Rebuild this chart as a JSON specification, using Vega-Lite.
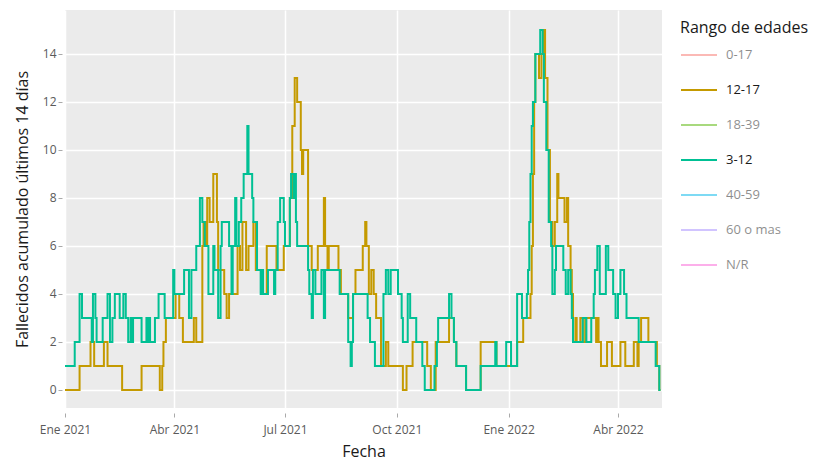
{
  "$schema": "https://vega.github.io/schema/vega-lite/v6.json",
  "width": 597,
  "height": 398,
  "autosize": {"type": "none"},
  "padding": {"left": 65, "top": 10, "right": 163, "bottom": 56},
  "background": "#ffffff",
  "config": {"font": "Open Sans", "view": {"fill": "#EBEBEB", "stroke": null}},
  "data": {"values": [
    {"fecha": "2021-01-01", "rango": "12-17", "fallecidos": 0},
    {"fecha": "2021-01-13", "rango": "12-17", "fallecidos": 1},
    {"fecha": "2021-01-22", "rango": "12-17", "fallecidos": 2},
    {"fecha": "2021-01-25", "rango": "12-17", "fallecidos": 1},
    {"fecha": "2021-02-02", "rango": "12-17", "fallecidos": 2},
    {"fecha": "2021-02-05", "rango": "12-17", "fallecidos": 1},
    {"fecha": "2021-02-17", "rango": "12-17", "fallecidos": 0},
    {"fecha": "2021-03-05", "rango": "12-17", "fallecidos": 1},
    {"fecha": "2021-03-20", "rango": "12-17", "fallecidos": 0},
    {"fecha": "2021-03-22", "rango": "12-17", "fallecidos": 1},
    {"fecha": "2021-03-23", "rango": "12-17", "fallecidos": 2},
    {"fecha": "2021-03-25", "rango": "12-17", "fallecidos": 3},
    {"fecha": "2021-04-02", "rango": "12-17", "fallecidos": 4},
    {"fecha": "2021-04-05", "rango": "12-17", "fallecidos": 3},
    {"fecha": "2021-04-08", "rango": "12-17", "fallecidos": 2},
    {"fecha": "2021-04-17", "rango": "12-17", "fallecidos": 3},
    {"fecha": "2021-04-19", "rango": "12-17", "fallecidos": 2},
    {"fecha": "2021-04-24", "rango": "12-17", "fallecidos": 6},
    {"fecha": "2021-04-25", "rango": "12-17", "fallecidos": 7},
    {"fecha": "2021-04-27", "rango": "12-17", "fallecidos": 6},
    {"fecha": "2021-04-28", "rango": "12-17", "fallecidos": 8},
    {"fecha": "2021-04-30", "rango": "12-17", "fallecidos": 7},
    {"fecha": "2021-05-03", "rango": "12-17", "fallecidos": 9},
    {"fecha": "2021-05-06", "rango": "12-17", "fallecidos": 7},
    {"fecha": "2021-05-07", "rango": "12-17", "fallecidos": 5},
    {"fecha": "2021-05-12", "rango": "12-17", "fallecidos": 4},
    {"fecha": "2021-05-14", "rango": "12-17", "fallecidos": 3},
    {"fecha": "2021-05-16", "rango": "12-17", "fallecidos": 4},
    {"fecha": "2021-05-23", "rango": "12-17", "fallecidos": 6},
    {"fecha": "2021-05-25", "rango": "12-17", "fallecidos": 5},
    {"fecha": "2021-05-27", "rango": "12-17", "fallecidos": 7},
    {"fecha": "2021-05-30", "rango": "12-17", "fallecidos": 5},
    {"fecha": "2021-06-01", "rango": "12-17", "fallecidos": 6},
    {"fecha": "2021-06-05", "rango": "12-17", "fallecidos": 7},
    {"fecha": "2021-06-07", "rango": "12-17", "fallecidos": 5},
    {"fecha": "2021-06-12", "rango": "12-17", "fallecidos": 4},
    {"fecha": "2021-06-16", "rango": "12-17", "fallecidos": 6},
    {"fecha": "2021-06-24", "rango": "12-17", "fallecidos": 5},
    {"fecha": "2021-06-30", "rango": "12-17", "fallecidos": 6},
    {"fecha": "2021-07-05", "rango": "12-17", "fallecidos": 8},
    {"fecha": "2021-07-07", "rango": "12-17", "fallecidos": 11},
    {"fecha": "2021-07-09", "rango": "12-17", "fallecidos": 13},
    {"fecha": "2021-07-11", "rango": "12-17", "fallecidos": 12},
    {"fecha": "2021-07-14", "rango": "12-17", "fallecidos": 10},
    {"fecha": "2021-07-15", "rango": "12-17", "fallecidos": 9},
    {"fecha": "2021-07-16", "rango": "12-17", "fallecidos": 10},
    {"fecha": "2021-07-20", "rango": "12-17", "fallecidos": 6},
    {"fecha": "2021-07-23", "rango": "12-17", "fallecidos": 5},
    {"fecha": "2021-07-28", "rango": "12-17", "fallecidos": 6},
    {"fecha": "2021-08-02", "rango": "12-17", "fallecidos": 8},
    {"fecha": "2021-08-03", "rango": "12-17", "fallecidos": 6},
    {"fecha": "2021-08-05", "rango": "12-17", "fallecidos": 5},
    {"fecha": "2021-08-06", "rango": "12-17", "fallecidos": 6},
    {"fecha": "2021-08-14", "rango": "12-17", "fallecidos": 5},
    {"fecha": "2021-08-16", "rango": "12-17", "fallecidos": 4},
    {"fecha": "2021-08-22", "rango": "12-17", "fallecidos": 3},
    {"fecha": "2021-08-26", "rango": "12-17", "fallecidos": 4},
    {"fecha": "2021-08-28", "rango": "12-17", "fallecidos": 5},
    {"fecha": "2021-09-03", "rango": "12-17", "fallecidos": 6},
    {"fecha": "2021-09-05", "rango": "12-17", "fallecidos": 7},
    {"fecha": "2021-09-06", "rango": "12-17", "fallecidos": 6},
    {"fecha": "2021-09-08", "rango": "12-17", "fallecidos": 4},
    {"fecha": "2021-09-10", "rango": "12-17", "fallecidos": 5},
    {"fecha": "2021-09-12", "rango": "12-17", "fallecidos": 4},
    {"fecha": "2021-09-14", "rango": "12-17", "fallecidos": 3},
    {"fecha": "2021-09-18", "rango": "12-17", "fallecidos": 1},
    {"fecha": "2021-09-22", "rango": "12-17", "fallecidos": 2},
    {"fecha": "2021-09-24", "rango": "12-17", "fallecidos": 1},
    {"fecha": "2021-10-06", "rango": "12-17", "fallecidos": 0},
    {"fecha": "2021-10-09", "rango": "12-17", "fallecidos": 1},
    {"fecha": "2021-10-14", "rango": "12-17", "fallecidos": 2},
    {"fecha": "2021-10-26", "rango": "12-17", "fallecidos": 1},
    {"fecha": "2021-10-29", "rango": "12-17", "fallecidos": 0},
    {"fecha": "2021-11-02", "rango": "12-17", "fallecidos": 2},
    {"fecha": "2021-11-13", "rango": "12-17", "fallecidos": 3},
    {"fecha": "2021-11-17", "rango": "12-17", "fallecidos": 2},
    {"fecha": "2021-11-19", "rango": "12-17", "fallecidos": 1},
    {"fecha": "2021-11-27", "rango": "12-17", "fallecidos": 0},
    {"fecha": "2021-12-09", "rango": "12-17", "fallecidos": 2},
    {"fecha": "2021-12-22", "rango": "12-17", "fallecidos": 1},
    {"fecha": "2022-01-08", "rango": "12-17", "fallecidos": 2},
    {"fecha": "2022-01-13", "rango": "12-17", "fallecidos": 3},
    {"fecha": "2022-01-19", "rango": "12-17", "fallecidos": 4},
    {"fecha": "2022-01-20", "rango": "12-17", "fallecidos": 6},
    {"fecha": "2022-01-21", "rango": "12-17", "fallecidos": 9},
    {"fecha": "2022-01-22", "rango": "12-17", "fallecidos": 12},
    {"fecha": "2022-01-23", "rango": "12-17", "fallecidos": 14},
    {"fecha": "2022-01-26", "rango": "12-17", "fallecidos": 13},
    {"fecha": "2022-01-28", "rango": "12-17", "fallecidos": 14},
    {"fecha": "2022-01-30", "rango": "12-17", "fallecidos": 15},
    {"fecha": "2022-01-31", "rango": "12-17", "fallecidos": 13},
    {"fecha": "2022-02-02", "rango": "12-17", "fallecidos": 10},
    {"fecha": "2022-02-04", "rango": "12-17", "fallecidos": 7},
    {"fecha": "2022-02-06", "rango": "12-17", "fallecidos": 6},
    {"fecha": "2022-02-08", "rango": "12-17", "fallecidos": 7},
    {"fecha": "2022-02-10", "rango": "12-17", "fallecidos": 9},
    {"fecha": "2022-02-11", "rango": "12-17", "fallecidos": 8},
    {"fecha": "2022-02-16", "rango": "12-17", "fallecidos": 7},
    {"fecha": "2022-02-18", "rango": "12-17", "fallecidos": 8},
    {"fecha": "2022-02-19", "rango": "12-17", "fallecidos": 6},
    {"fecha": "2022-02-21", "rango": "12-17", "fallecidos": 5},
    {"fecha": "2022-02-22", "rango": "12-17", "fallecidos": 4},
    {"fecha": "2022-02-23", "rango": "12-17", "fallecidos": 2},
    {"fecha": "2022-02-25", "rango": "12-17", "fallecidos": 3},
    {"fecha": "2022-02-26", "rango": "12-17", "fallecidos": 2},
    {"fecha": "2022-03-01", "rango": "12-17", "fallecidos": 3},
    {"fecha": "2022-03-03", "rango": "12-17", "fallecidos": 2},
    {"fecha": "2022-03-05", "rango": "12-17", "fallecidos": 3},
    {"fecha": "2022-03-14", "rango": "12-17", "fallecidos": 2},
    {"fecha": "2022-03-15", "rango": "12-17", "fallecidos": 3},
    {"fecha": "2022-03-16", "rango": "12-17", "fallecidos": 2},
    {"fecha": "2022-03-18", "rango": "12-17", "fallecidos": 1},
    {"fecha": "2022-03-23", "rango": "12-17", "fallecidos": 2},
    {"fecha": "2022-03-27", "rango": "12-17", "fallecidos": 1},
    {"fecha": "2022-04-03", "rango": "12-17", "fallecidos": 2},
    {"fecha": "2022-04-07", "rango": "12-17", "fallecidos": 1},
    {"fecha": "2022-04-14", "rango": "12-17", "fallecidos": 2},
    {"fecha": "2022-04-17", "rango": "12-17", "fallecidos": 1},
    {"fecha": "2022-04-18", "rango": "12-17", "fallecidos": 2},
    {"fecha": "2022-04-20", "rango": "12-17", "fallecidos": 3},
    {"fecha": "2022-04-26", "rango": "12-17", "fallecidos": 2},
    {"fecha": "2022-05-03", "rango": "12-17", "fallecidos": 1},
    {"fecha": "2022-05-05", "rango": "12-17", "fallecidos": 0},
    {"fecha": "2022-05-06", "rango": "12-17", "fallecidos": 0},
    {"fecha": "2021-01-01", "rango": "3-12", "fallecidos": 1},
    {"fecha": "2021-01-09", "rango": "3-12", "fallecidos": 2},
    {"fecha": "2021-01-13", "rango": "3-12", "fallecidos": 4},
    {"fecha": "2021-01-15", "rango": "3-12", "fallecidos": 3},
    {"fecha": "2021-01-23", "rango": "3-12", "fallecidos": 2},
    {"fecha": "2021-01-24", "rango": "3-12", "fallecidos": 4},
    {"fecha": "2021-01-26", "rango": "3-12", "fallecidos": 3},
    {"fecha": "2021-01-27", "rango": "3-12", "fallecidos": 2},
    {"fecha": "2021-02-01", "rango": "3-12", "fallecidos": 3},
    {"fecha": "2021-02-05", "rango": "3-12", "fallecidos": 4},
    {"fecha": "2021-02-07", "rango": "3-12", "fallecidos": 2},
    {"fecha": "2021-02-09", "rango": "3-12", "fallecidos": 3},
    {"fecha": "2021-02-11", "rango": "3-12", "fallecidos": 4},
    {"fecha": "2021-02-15", "rango": "3-12", "fallecidos": 3},
    {"fecha": "2021-02-18", "rango": "3-12", "fallecidos": 4},
    {"fecha": "2021-02-20", "rango": "3-12", "fallecidos": 3},
    {"fecha": "2021-02-22", "rango": "3-12", "fallecidos": 2},
    {"fecha": "2021-02-24", "rango": "3-12", "fallecidos": 3},
    {"fecha": "2021-02-25", "rango": "3-12", "fallecidos": 2},
    {"fecha": "2021-02-26", "rango": "3-12", "fallecidos": 3},
    {"fecha": "2021-03-05", "rango": "3-12", "fallecidos": 2},
    {"fecha": "2021-03-09", "rango": "3-12", "fallecidos": 3},
    {"fecha": "2021-03-10", "rango": "3-12", "fallecidos": 2},
    {"fecha": "2021-03-11", "rango": "3-12", "fallecidos": 3},
    {"fecha": "2021-03-12", "rango": "3-12", "fallecidos": 2},
    {"fecha": "2021-03-16", "rango": "3-12", "fallecidos": 3},
    {"fecha": "2021-03-19", "rango": "3-12", "fallecidos": 4},
    {"fecha": "2021-03-24", "rango": "3-12", "fallecidos": 3},
    {"fecha": "2021-03-31", "rango": "3-12", "fallecidos": 5},
    {"fecha": "2021-04-01", "rango": "3-12", "fallecidos": 4},
    {"fecha": "2021-04-09", "rango": "3-12", "fallecidos": 5},
    {"fecha": "2021-04-13", "rango": "3-12", "fallecidos": 3},
    {"fecha": "2021-04-15", "rango": "3-12", "fallecidos": 5},
    {"fecha": "2021-04-19", "rango": "3-12", "fallecidos": 6},
    {"fecha": "2021-04-22", "rango": "3-12", "fallecidos": 8},
    {"fecha": "2021-04-24", "rango": "3-12", "fallecidos": 7},
    {"fecha": "2021-04-26", "rango": "3-12", "fallecidos": 6},
    {"fecha": "2021-04-29", "rango": "3-12", "fallecidos": 4},
    {"fecha": "2021-05-03", "rango": "3-12", "fallecidos": 6},
    {"fecha": "2021-05-04", "rango": "3-12", "fallecidos": 5},
    {"fecha": "2021-05-07", "rango": "3-12", "fallecidos": 3},
    {"fecha": "2021-05-09", "rango": "3-12", "fallecidos": 6},
    {"fecha": "2021-05-10", "rango": "3-12", "fallecidos": 7},
    {"fecha": "2021-05-16", "rango": "3-12", "fallecidos": 6},
    {"fecha": "2021-05-18", "rango": "3-12", "fallecidos": 4},
    {"fecha": "2021-05-19", "rango": "3-12", "fallecidos": 6},
    {"fecha": "2021-05-21", "rango": "3-12", "fallecidos": 8},
    {"fecha": "2021-05-22", "rango": "3-12", "fallecidos": 6},
    {"fecha": "2021-05-24", "rango": "3-12", "fallecidos": 7},
    {"fecha": "2021-05-26", "rango": "3-12", "fallecidos": 8},
    {"fecha": "2021-05-28", "rango": "3-12", "fallecidos": 9},
    {"fecha": "2021-05-31", "rango": "3-12", "fallecidos": 11},
    {"fecha": "2021-06-01", "rango": "3-12", "fallecidos": 9},
    {"fecha": "2021-06-04", "rango": "3-12", "fallecidos": 8},
    {"fecha": "2021-06-05", "rango": "3-12", "fallecidos": 7},
    {"fecha": "2021-06-08", "rango": "3-12", "fallecidos": 5},
    {"fecha": "2021-06-11", "rango": "3-12", "fallecidos": 4},
    {"fecha": "2021-06-12", "rango": "3-12", "fallecidos": 5},
    {"fecha": "2021-06-13", "rango": "3-12", "fallecidos": 4},
    {"fecha": "2021-06-17", "rango": "3-12", "fallecidos": 5},
    {"fecha": "2021-06-22", "rango": "3-12", "fallecidos": 4},
    {"fecha": "2021-06-23", "rango": "3-12", "fallecidos": 5},
    {"fecha": "2021-06-25", "rango": "3-12", "fallecidos": 7},
    {"fecha": "2021-06-27", "rango": "3-12", "fallecidos": 8},
    {"fecha": "2021-06-30", "rango": "3-12", "fallecidos": 7},
    {"fecha": "2021-07-01", "rango": "3-12", "fallecidos": 6},
    {"fecha": "2021-07-05", "rango": "3-12", "fallecidos": 8},
    {"fecha": "2021-07-06", "rango": "3-12", "fallecidos": 9},
    {"fecha": "2021-07-08", "rango": "3-12", "fallecidos": 8},
    {"fecha": "2021-07-09", "rango": "3-12", "fallecidos": 9},
    {"fecha": "2021-07-10", "rango": "3-12", "fallecidos": 7},
    {"fecha": "2021-07-11", "rango": "3-12", "fallecidos": 6},
    {"fecha": "2021-07-20", "rango": "3-12", "fallecidos": 5},
    {"fecha": "2021-07-21", "rango": "3-12", "fallecidos": 4},
    {"fecha": "2021-07-23", "rango": "3-12", "fallecidos": 3},
    {"fecha": "2021-07-24", "rango": "3-12", "fallecidos": 5},
    {"fecha": "2021-07-26", "rango": "3-12", "fallecidos": 4},
    {"fecha": "2021-07-31", "rango": "3-12", "fallecidos": 5},
    {"fecha": "2021-08-02", "rango": "3-12", "fallecidos": 3},
    {"fecha": "2021-08-03", "rango": "3-12", "fallecidos": 5},
    {"fecha": "2021-08-15", "rango": "3-12", "fallecidos": 4},
    {"fecha": "2021-08-22", "rango": "3-12", "fallecidos": 2},
    {"fecha": "2021-08-24", "rango": "3-12", "fallecidos": 1},
    {"fecha": "2021-08-25", "rango": "3-12", "fallecidos": 2},
    {"fecha": "2021-08-26", "rango": "3-12", "fallecidos": 4},
    {"fecha": "2021-09-07", "rango": "3-12", "fallecidos": 3},
    {"fecha": "2021-09-09", "rango": "3-12", "fallecidos": 2},
    {"fecha": "2021-09-13", "rango": "3-12", "fallecidos": 1},
    {"fecha": "2021-09-20", "rango": "3-12", "fallecidos": 4},
    {"fecha": "2021-09-22", "rango": "3-12", "fallecidos": 5},
    {"fecha": "2021-09-24", "rango": "3-12", "fallecidos": 4},
    {"fecha": "2021-09-26", "rango": "3-12", "fallecidos": 5},
    {"fecha": "2021-10-02", "rango": "3-12", "fallecidos": 4},
    {"fecha": "2021-10-05", "rango": "3-12", "fallecidos": 3},
    {"fecha": "2021-10-06", "rango": "3-12", "fallecidos": 2},
    {"fecha": "2021-10-10", "rango": "3-12", "fallecidos": 4},
    {"fecha": "2021-10-12", "rango": "3-12", "fallecidos": 3},
    {"fecha": "2021-10-17", "rango": "3-12", "fallecidos": 2},
    {"fecha": "2021-10-22", "rango": "3-12", "fallecidos": 1},
    {"fecha": "2021-10-24", "rango": "3-12", "fallecidos": 0},
    {"fecha": "2021-11-01", "rango": "3-12", "fallecidos": 1},
    {"fecha": "2021-11-03", "rango": "3-12", "fallecidos": 2},
    {"fecha": "2021-11-04", "rango": "3-12", "fallecidos": 3},
    {"fecha": "2021-11-13", "rango": "3-12", "fallecidos": 4},
    {"fecha": "2021-11-15", "rango": "3-12", "fallecidos": 3},
    {"fecha": "2021-11-17", "rango": "3-12", "fallecidos": 2},
    {"fecha": "2021-11-19", "rango": "3-12", "fallecidos": 1},
    {"fecha": "2021-11-27", "rango": "3-12", "fallecidos": 0},
    {"fecha": "2021-12-09", "rango": "3-12", "fallecidos": 1},
    {"fecha": "2021-12-21", "rango": "3-12", "fallecidos": 2},
    {"fecha": "2021-12-22", "rango": "3-12", "fallecidos": 1},
    {"fecha": "2021-12-30", "rango": "3-12", "fallecidos": 2},
    {"fecha": "2022-01-03", "rango": "3-12", "fallecidos": 1},
    {"fecha": "2022-01-08", "rango": "3-12", "fallecidos": 4},
    {"fecha": "2022-01-12", "rango": "3-12", "fallecidos": 3},
    {"fecha": "2022-01-16", "rango": "3-12", "fallecidos": 4},
    {"fecha": "2022-01-17", "rango": "3-12", "fallecidos": 5},
    {"fecha": "2022-01-18", "rango": "3-12", "fallecidos": 7},
    {"fecha": "2022-01-19", "rango": "3-12", "fallecidos": 9},
    {"fecha": "2022-01-20", "rango": "3-12", "fallecidos": 11},
    {"fecha": "2022-01-21", "rango": "3-12", "fallecidos": 12},
    {"fecha": "2022-01-23", "rango": "3-12", "fallecidos": 14},
    {"fecha": "2022-01-27", "rango": "3-12", "fallecidos": 15},
    {"fecha": "2022-01-29", "rango": "3-12", "fallecidos": 14},
    {"fecha": "2022-01-30", "rango": "3-12", "fallecidos": 12},
    {"fecha": "2022-02-01", "rango": "3-12", "fallecidos": 10},
    {"fecha": "2022-02-03", "rango": "3-12", "fallecidos": 7},
    {"fecha": "2022-02-05", "rango": "3-12", "fallecidos": 6},
    {"fecha": "2022-02-06", "rango": "3-12", "fallecidos": 4},
    {"fecha": "2022-02-08", "rango": "3-12", "fallecidos": 5},
    {"fecha": "2022-02-09", "rango": "3-12", "fallecidos": 6},
    {"fecha": "2022-02-15", "rango": "3-12", "fallecidos": 5},
    {"fecha": "2022-02-17", "rango": "3-12", "fallecidos": 4},
    {"fecha": "2022-02-19", "rango": "3-12", "fallecidos": 5},
    {"fecha": "2022-02-21", "rango": "3-12", "fallecidos": 4},
    {"fecha": "2022-02-22", "rango": "3-12", "fallecidos": 3},
    {"fecha": "2022-02-23", "rango": "3-12", "fallecidos": 2},
    {"fecha": "2022-03-03", "rango": "3-12", "fallecidos": 3},
    {"fecha": "2022-03-06", "rango": "3-12", "fallecidos": 2},
    {"fecha": "2022-03-10", "rango": "3-12", "fallecidos": 3},
    {"fecha": "2022-03-12", "rango": "3-12", "fallecidos": 4},
    {"fecha": "2022-03-13", "rango": "3-12", "fallecidos": 5},
    {"fecha": "2022-03-15", "rango": "3-12", "fallecidos": 6},
    {"fecha": "2022-03-17", "rango": "3-12", "fallecidos": 4},
    {"fecha": "2022-03-22", "rango": "3-12", "fallecidos": 6},
    {"fecha": "2022-03-24", "rango": "3-12", "fallecidos": 5},
    {"fecha": "2022-03-28", "rango": "3-12", "fallecidos": 4},
    {"fecha": "2022-03-30", "rango": "3-12", "fallecidos": 3},
    {"fecha": "2022-04-01", "rango": "3-12", "fallecidos": 4},
    {"fecha": "2022-04-03", "rango": "3-12", "fallecidos": 5},
    {"fecha": "2022-04-06", "rango": "3-12", "fallecidos": 4},
    {"fecha": "2022-04-08", "rango": "3-12", "fallecidos": 3},
    {"fecha": "2022-04-18", "rango": "3-12", "fallecidos": 2},
    {"fecha": "2022-05-02", "rango": "3-12", "fallecidos": 1},
    {"fecha": "2022-05-05", "rango": "3-12", "fallecidos": 0},
    {"fecha": "2022-05-06", "rango": "3-12", "fallecidos": 0}
  ]},
  "mark": {"type": "line", "interpolate": "step-after", "strokeWidth": 2, "clip": true},
  "encoding": {
    "x": {
      "field": "fecha",
      "type": "temporal",
      "scale": {"type": "utc", "domain": [{"year": 2021, "month": 1, "date": 1, "utc": true}, {"year": 2022, "month": 5, "date": 7, "hours": 5, "utc": true}]},
      "axis": {
        "values": [
          {"year": 2021, "month": 1, "date": 1, "utc": true},
          {"year": 2021, "month": 4, "date": 1, "utc": true},
          {"year": 2021, "month": 7, "date": 1, "utc": true},
          {"year": 2021, "month": 10, "date": 1, "utc": true},
          {"year": 2022, "month": 1, "date": 1, "utc": true},
          {"year": 2022, "month": 4, "date": 1, "utc": true}
        ],
        "labelExpr": "['Ene','Feb','Mar','Abr','May','Jun','Jul','Ago','Sep','Oct','Nov','Dic'][utcmonth(datum.value)] + ' ' + utcyear(datum.value)",
        "title": "Fecha",
        "titleFontSize": 16,
        "titleFontWeight": "normal",
        "titleColor": "#1a1a1a",
        "titlePadding": 8,
        "labelFontSize": 12,
        "labelColor": "#5a5a5a",
        "labelFlush": false,
        "labelPadding": 7,
        "domain": false,
        "tickColor": "#aaaaaa",
        "tickSize": 4,
        "offset": 5,
        "grid": true,
        "gridColor": "#ffffff",
        "gridWidth": 1.5
      }
    },
    "y": {
      "field": "fallecidos",
      "type": "quantitative",
      "scale": {"domain": [-0.75, 15.83], "nice": false, "zero": false},
      "axis": {
        "values": [0, 2, 4, 6, 8, 10, 12, 14],
        "title": "Fallecidos acumulado últimos 14 días",
        "titleFontSize": 16,
        "titleFontWeight": "normal",
        "titleColor": "#1a1a1a",
        "titlePadding": 12,
        "labelFontSize": 12,
        "labelColor": "#5a5a5a",
        "labelPadding": 2,
        "domain": false,
        "tickColor": "#aaaaaa",
        "tickSize": 4,
        "offset": 3,
        "grid": true,
        "gridColor": "#ffffff",
        "gridWidth": 1.5
      }
    },
    "color": {
      "field": "rango",
      "type": "nominal",
      "scale": {
        "domain": ["0-17", "12-17", "18-39", "3-12", "40-59", "60 o mas", "N/R"],
        "range": ["#F8766D", "#C49A00", "#53B400", "#00C094", "#00B6EB", "#A58AFF", "#FB61D7"]
      },
      "legend": {
        "orient": "none",
        "legendX": 615,
        "legendY": 10,
        "padding": 0,
        "title": "Rango de edades",
        "titleFontSize": 16,
        "titleFontWeight": "normal",
        "titleColor": "#1a1a1a",
        "titlePadding": 0,
        "symbolType": "stroke",
        "symbolSize": 1296,
        "symbolStrokeWidth": 2,
        "labelFontSize": 13,
        "labelColor": "#1a1a1a",
        "labelOffset": 8,
        "rowPadding": 9,
        "encode": {
          "labels": {"update": {"opacity": {"signal": "datum.value === '12-17' || datum.value === '3-12' ? 1 : 0.5"}}},
          "symbols": {"update": {"opacity": {"signal": "datum.value === '12-17' || datum.value === '3-12' ? 1 : 0.5"}}}
        }
      }
    }
  }
}
